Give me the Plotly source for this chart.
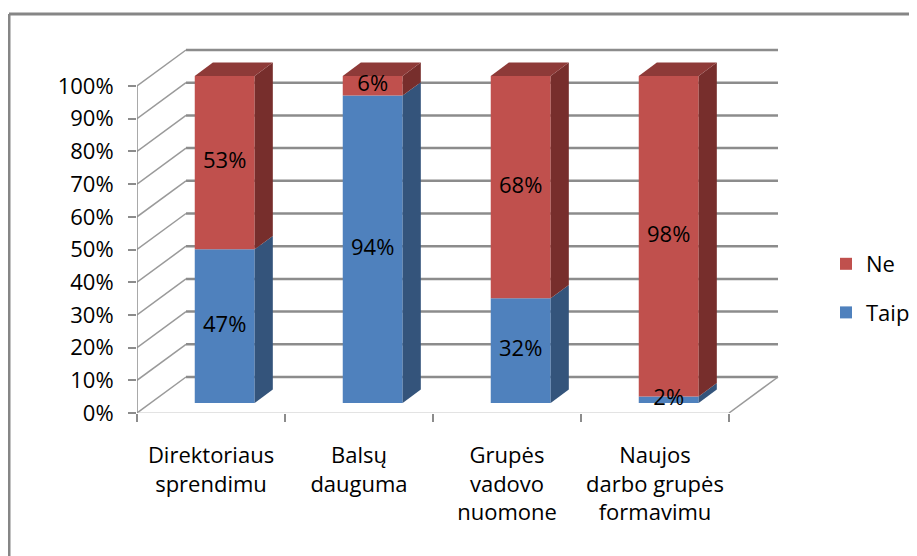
import plotly.graph_objects as go

# ---------------- data ----------------
categories = ["Direktoriaus<br>sprendimu", "Balsų<br>dauguma",
              "Grupės<br>vadovo<br>nuomone", "Naujos<br>darbo grupės<br>formavimu"]
taip = [47, 94, 32, 2]
ne = [53, 6, 68, 98]
ytick_values = [0, 10, 20, 30, 40, 50, 60, 70, 80, 90, 100]
ytick_labels = [f"{v}%" for v in ytick_values]

# ---------------- geometry (pixel based projection) ----------------
W, H = 917, 556
OFF = 8                 # page body margin offset
L, T = 137 - OFF, 40 - OFF
PLOT_RIGHT, PLOT_BOTTOM = 789 - OFF, 413 - OFF
R, B = W - PLOT_RIGHT, H - PLOT_BOTTOM
CAT_PX = 148.0          # pixel width of one category on the front plane
PCT_PX = 3.27           # pixels per percent
plot_w = W - L - R
plot_h = H - T - B
xmax = plot_w / CAT_PX
ymax = plot_h / PCT_PX
DX = 49 / CAT_PX        # depth offset (full depth) in x units
DY = 36 / PCT_PX        # depth offset (full depth) in y units
DF, DB = 0.28, 0.65     # bar front / back depth
BW = 0.405              # bar width (category units)
n = len(categories)

FONT = "Open Sans"
FS = 22
GRID = "#8c8c8c"

series = [
    ("Taip", taip, "#4F81BD", "#34547B", "#3F6897"),
    ("Ne", ne, "#C0504D", "#772E2C", "#8E3A38"),
]
legend_rank = {"Ne": 1, "Taip": 2}

fig = go.Figure()

# front faces as bars
bases = [0] * n
seg_info = []
for name, vals, front, side, top in series:
    fig.add_trace(go.Bar(
        x=[i + 0.5 + DF * DX for i in range(n)],
        y=vals,
        base=[b + DF * DY for b in bases],
        width=BW,
        marker=dict(color=front, line=dict(width=0)),
        name=name, legendgroup=name, legendrank=legend_rank[name], hoverinfo="skip",
    ))
    seg_info.append((name, vals, list(bases), front, side, top))
    bases = [b + v for b, v in zip(bases, vals)]

# side and top faces
ddx = (DB - DF) * DX
for name, vals, bs, front, side, top in seg_info:
    for i in range(n):
        b, h = bs[i], vals[i]
        xr = i + 0.5 + BW / 2 + DF * DX
        xs = [xr, xr + ddx, xr + ddx, xr, xr]
        ys = [b + DF * DY, b + DB * DY, b + h + DB * DY, b + h + DF * DY, b + DF * DY]
        fig.add_trace(go.Scatter(x=xs, y=ys, mode="lines", fill="toself",
                                 fillcolor=side, line=dict(width=0, color=side),
                                 showlegend=False, hoverinfo="skip"))
top_total = bases
top_color = seg_info[-1][5]
for i in range(n):
    xl = i + 0.5 - BW / 2 + DF * DX
    xr = xl + BW
    t = top_total[i]
    xs = [xl, xr, xr + ddx, xl + ddx, xl]
    ys = [t + DF * DY, t + DF * DY, t + DB * DY, t + DB * DY, t + DF * DY]
    fig.add_trace(go.Scatter(x=xs, y=ys, mode="lines", fill="toself",
                             fillcolor=top_color, line=dict(width=0, color=top_color),
                             showlegend=False, hoverinfo="skip"))

# data labels
lx, ly, lt = [], [], []
for name, vals, bs, *_ in seg_info:
    for i in range(n):
        lx.append(i + 0.5 + DF * DX)
        ly.append(bs[i] + vals[i] / 2 + DF * DY)
        lt.append(f"{vals[i]}%")
fig.add_trace(go.Scatter(x=lx, y=ly, text=lt, mode="text", xaxis="x2", yaxis="y",
                         textfont=dict(family=FONT, size=FS, color="#000000"),
                         showlegend=False, hoverinfo="skip"))

# ---------------- walls / gridlines as shapes ----------------
shapes = []
for v in ytick_values:
    shapes.append(dict(type="line", xref="x", yref="y", layer="below",
                       x0=DX, x1=n + DX, y0=v + DY, y1=v + DY,
                       line=dict(color=GRID, width=2.5)))
    shapes.append(dict(type="line", xref="x", yref="y", layer="below",
                       x0=0, x1=DX, y0=v, y1=v + DY,
                       line=dict(color="#9a9a9a", width=1.5)))
shapes.append(dict(type="line", xref="x", yref="y", layer="below",
                   x0=0, x1=n, y0=0, y1=0, line=dict(color="#c8c8c8", width=1.2)))
shapes.append(dict(type="line", xref="x", yref="y", layer="below",
                   x0=n, x1=n + DX, y0=0, y1=DY, line=dict(color="#9a9a9a", width=1.5)))
shapes.append(dict(type="line", xref="x", yref="y", layer="below",
                   x0=0, x1=0, y0=0, y1=ytick_values[-1], line=dict(color="#8c8c8c", width=1.5)))


def px2paper_x(p):
    return (p - OFF - L) / plot_w


def px2paper_y(p):
    return (H - B - (p - OFF)) / plot_h


# chart border (left and top)
shapes.append(dict(type="line", xref="paper", yref="paper",
                   x0=px2paper_x(9), x1=px2paper_x(W + 20), y0=px2paper_y(14), y1=px2paper_y(14),
                   line=dict(color="#868686", width=3)))
shapes.append(dict(type="line", xref="paper", yref="paper",
                   x0=px2paper_x(9), x1=px2paper_x(9), y0=px2paper_y(14), y1=px2paper_y(H + 20),
                   line=dict(color="#868686", width=3)))

fig.update_layout(
    width=W, height=H,
    margin=dict(l=L, r=R, t=T, b=B, pad=0, autoexpand=False),
    paper_bgcolor="white", plot_bgcolor="white",
    barmode="overlay",
    shapes=shapes,
    font=dict(family=FONT, size=FS, color="#000000"),
    xaxis=dict(range=[0, xmax], tickvals=[i + 0.5 for i in range(n)], ticktext=categories,
               ticks="", showgrid=False, zeroline=False, showline=False,
               ticklabelstandoff=27, tickfont=dict(family=FONT, size=FS, color="#000000")),
    xaxis2=dict(range=[0, xmax], overlaying="x", anchor="y", side="bottom",
                tickvals=list(range(n + 1)), ticks="outside", ticklen=8, tickwidth=2,
                tickcolor="#8c8c8c", showticklabels=False, showgrid=False,
                zeroline=False, showline=False),
    yaxis=dict(range=[0, ymax], tickvals=ytick_values, ticktext=ytick_labels,
               ticks="outside", ticklen=8, tickwidth=2, tickcolor="#8c8c8c",
               showgrid=False, zeroline=False, showline=False, ticklabelstandoff=10,
               tickfont=dict(family=FONT, size=FS, color="#000000")),
    legend=dict(x=px2paper_x(826), y=px2paper_y(243), xanchor="left", yanchor="top",
                traceorder="grouped", tracegroupgap=17,
                font=dict(family=FONT, size=FS, color="#000000"),
                bgcolor="rgba(0,0,0,0)"),
    showlegend=True,
)

fig.write_html("out.html")
